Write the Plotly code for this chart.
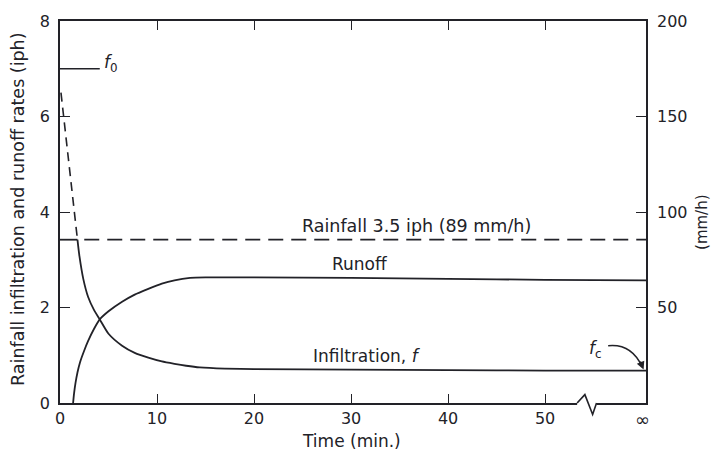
import plotly.graph_objects as go

# ---- data ----
rain_iph = 3.42            # rainfall rate (drawn level)
f0 = 7.0                   # initial infiltration capacity
t_end = 60.4               # "infinity" end of time axis
ponding_t = 1.8            # time at which infiltration capacity falls below rainfall

# infiltration capacity before ponding (dashed)
cap_t = [0.1, 0.9, 1.8]
cap_v = [6.5, 5.0, 3.42]

# infiltration (solid)
inf_t = [1.8, 2.0, 2.4, 2.9, 3.5, 4.1, 5.0, 6.4, 7.7, 9.1, 10.5, 11.8, 13.0, 14.4,
         17, 20, 30, 40, 50, 60.4]
inf_v = [3.42, 3.08, 2.6, 2.22, 1.95, 1.75, 1.45, 1.2, 1.05, 0.95, 0.87, 0.82, 0.78, 0.745,
         0.72, 0.71, 0.70, 0.69, 0.68, 0.68]

# runoff
run_t = [1.35, 1.45, 1.6, 1.8, 2.06, 2.5, 2.9, 3.5, 4.1, 5.0, 6.4, 7.7, 9.1, 10.5, 11.8, 13.4,
         15, 20, 30, 40, 50, 60.4]
run_v = [0.0, 0.2, 0.42, 0.64, 0.85, 1.1, 1.3, 1.55, 1.75, 1.92, 2.12, 2.27, 2.39, 2.5, 2.57,
         2.62, 2.63, 2.63, 2.62, 2.60, 2.58, 2.57]

x_ticks = [0, 10, 20, 30, 40, 50]
y_ticks = [0, 2, 4, 6, 8]
y2_ticks = [50, 100, 150, 200]

INK = "#222228"
FONT = "DejaVu Sans"

fig = go.Figure()

fig.add_trace(go.Scatter(x=[0, ponding_t], y=[rain_iph, rain_iph], mode="lines",
                         line=dict(color=INK, width=1.8), hoverinfo="skip"))
fig.add_trace(go.Scatter(x=[ponding_t + 0.7, t_end], y=[rain_iph, rain_iph], mode="lines",
                         line=dict(color=INK, width=1.8, dash="15px,8px"), hoverinfo="skip"))
fig.add_trace(go.Scatter(x=cap_t, y=cap_v, mode="lines",
                         line=dict(color=INK, width=1.6, dash="9px,6px"), hoverinfo="skip"))
fig.add_trace(go.Scatter(x=inf_t, y=inf_v, mode="lines", line_shape="spline",
                         line=dict(color=INK, width=1.8, smoothing=0.6), hoverinfo="skip"))
fig.add_trace(go.Scatter(x=run_t, y=run_v, mode="lines", line_shape="spline",
                         line=dict(color=INK, width=1.8, smoothing=0.6), hoverinfo="skip"))
# f0 leader line
fig.add_trace(go.Scatter(x=[0, 4.1], y=[f0, f0], mode="lines",
                         line=dict(color=INK, width=1.6), hoverinfo="skip"))
# empty trace to show the right axis
fig.add_trace(go.Scatter(x=[None], y=[None], yaxis="y2", hoverinfo="skip"))

tickfont = dict(family=FONT, size=16, color=INK)

fig.update_layout(
    width=712, height=457,
    margin=dict(l=60, r=66, t=15, b=54),
    paper_bgcolor="white", plot_bgcolor="white",
    showlegend=False,
    font=dict(family=FONT, size=16, color=INK),
    xaxis=dict(range=[0, t_end], tickvals=x_ticks, ticks="inside", ticklen=9,
               tickcolor=INK, tickwidth=1.4, showline=True, linecolor=INK, linewidth=1.6,
               mirror="ticks", showgrid=False, zeroline=False, tickfont=tickfont),
    yaxis=dict(range=[0, 8], tickvals=y_ticks, ticks="inside", ticklen=10,
               tickcolor=INK, tickwidth=1.4, showline=True, linecolor=INK, linewidth=1.6,
               showgrid=False, zeroline=False, tickfont=tickfont, ticklabelstandoff=5),
    yaxis2=dict(range=[0, 200], tickvals=y2_ticks, overlaying="y", side="right",
                ticks="inside", ticklen=10, tickcolor=INK, tickwidth=1.4,
                showline=True, linecolor=INK, linewidth=1.6, showgrid=False,
                zeroline=False, tickfont=tickfont, ticklabelstandoff=6),
)

# axis break on the time axis
bx = [53.3, 54.1, 54.9, 55.3]
fig.add_shape(type="rect", xref="x", yref="paper", x0=bx[0], x1=bx[-1], y0=-0.008, y1=0.008,
              fillcolor="white", line_width=0, layer="above")
fig.add_shape(type="path", xref="x", yref="paper",
              path=f"M {bx[0]},0 L {bx[1]},0.022 L {bx[2]},-0.03 L {bx[3]},0",
              line=dict(color=INK, width=1.6), layer="above")

# fc curved arrow
fig.add_shape(type="path", xref="x", yref="y",
              path="M 56.5,1.2 Q 58.9,1.25 60.0,0.76",
              line=dict(color=INK, width=1.6))
fig.add_annotation(x=60.15, y=0.70, ax=59.75, ay=0.9, xref="x", yref="y", axref="x", ayref="y",
                   text="", showarrow=True, arrowhead=2, arrowsize=1, arrowwidth=1.6,
                   arrowcolor=INK)

ann = [
    dict(x=36.7, y=3.71, text="Rainfall 3.5 iph (89 mm/h)", size=17.5),
    dict(x=30.9, y=2.91, text="Runoff", size=17),
    dict(x=31.6, y=0.99, text="Infiltration, <i>f</i>", size=17),
    dict(x=4.3, y=7.1, text="<i>f</i><sub>0</sub>", xanchor="left", size=17),
    dict(x=55.2, y=1.12, text="<i>f</i><sub>c</sub>", size=17),
]
for a in ann:
    size = a.pop("size")
    fig.add_annotation(xref="x", yref="y", showarrow=False,
                       font=dict(family=FONT, size=size, color=INK), **a)

fig.add_annotation(x=60.0, y=-0.044, xref="x", yref="paper", yanchor="middle",
                   text="∞", showarrow=False, font=dict(family=FONT, size=18, color=INK))
fig.add_annotation(x=0.498, y=-0.1, xref="paper", yref="paper", yanchor="middle",
                   xanchor="center", text="Time (min.)",
                   showarrow=False, font=dict(family=FONT, size=17, color=INK))
fig.add_annotation(x=-0.0717, y=0.508, xref="paper", yref="paper", textangle=-90,
                   xanchor="center", yanchor="middle",
                   text="Rainfall infiltration and runoff rates (iph)", showarrow=False,
                   font=dict(family=FONT, size=17.5, color=INK))
fig.add_annotation(x=1.0956, y=0.474, xref="paper", yref="paper", textangle=-90,
                   xanchor="center", yanchor="middle",
                   text="(mm/h)", showarrow=False,
                   font=dict(family=FONT, size=15, color=INK))

fig.write_html("out.html")
